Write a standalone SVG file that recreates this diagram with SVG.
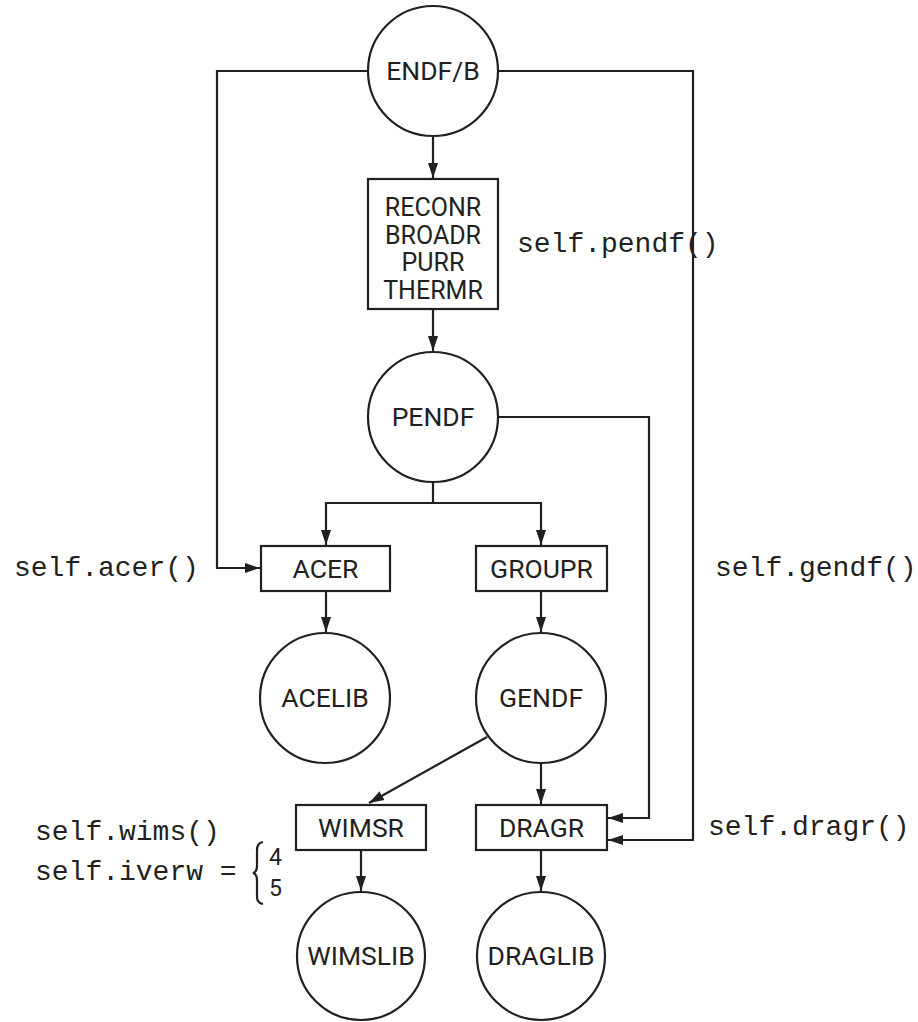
<svg xmlns="http://www.w3.org/2000/svg" width="918" height="1022" viewBox="0 0 918 1022">
<style>
.n{fill:#fff;stroke:#231f20;stroke-width:2.2}
.t{font-family:Roboto,"Liberation Sans",sans-serif;font-size:26.5px;fill:#231f20;text-anchor:middle}
.s{font-size:25px}
.d{font-size:23px;text-anchor:start}
.m{font-family:"Liberation Mono","Courier New",monospace;font-size:28px;fill:#231f20}
.c{fill:none;stroke:#231f20;stroke-width:2.2}
.a{marker-end:url(#ah)}
</style>
<defs>
<marker id="ah" markerUnits="userSpaceOnUse" markerWidth="16" markerHeight="12" refX="15" refY="5" orient="auto" viewBox="0 0 16 10">
<path d="M0,0 L15,5 L0,10 z" fill="#231f20"/>
</marker>
</defs>
<rect width="918" height="1022" fill="#fff"/>
<g id="connectors">
<polyline class="c a" points="368,71 217,71 217,568 260,568"/>
<polyline class="c a" points="498,71 693,71 693,840 608,840"/>
<polyline class="c a" points="498,417 649,417 649,818 608,818"/>
<line class="c a" x1="433" y1="136" x2="433" y2="178"/>
<line class="c a" x1="433" y1="309" x2="433" y2="351"/>
<polyline class="c" points="433,482 433,503"/>
<polyline class="c a" points="433,503 326,503 326,545"/>
<polyline class="c a" points="433,503 541,503 541,545"/>
<line class="c a" x1="326" y1="591" x2="326" y2="632"/>
<line class="c a" x1="541" y1="591" x2="541" y2="632"/>
<line class="c a" x1="541" y1="763" x2="541" y2="804"/>
<line class="c a" x1="487" y1="737" x2="369" y2="803"/>
<line class="c a" x1="361" y1="850" x2="361" y2="891"/>
<line class="c a" x1="541" y1="850" x2="541" y2="891"/>
</g>
<g id="endfb"><circle class="n" cx="433" cy="71" r="65"/><text class="t" x="433" y="80">ENDF/B</text></g>
<g id="pendf-modules"><rect class="n" x="368" y="179" width="130" height="130"/>
<text class="t s" x="433" y="216">RECONR</text>
<text class="t s" x="433" y="244">BROADR</text>
<text class="t s" x="433" y="271">PURR</text>
<text class="t s" x="433" y="299">THERMR</text></g>
<g id="pendf"><circle class="n" cx="433" cy="417" r="65"/><text class="t" x="433" y="426">PENDF</text></g>
<g id="acer"><rect class="n" x="261" y="546" width="129" height="45"/><text class="t" x="325.5" y="578">ACER</text></g>
<g id="groupr"><rect class="n" x="476" y="546" width="131" height="45"/><text class="t" x="541.5" y="578">GROUPR</text></g>
<g id="acelib"><circle class="n" cx="325" cy="698" r="65"/><text class="t" x="325" y="707">ACELIB</text></g>
<g id="gendf"><circle class="n" cx="541" cy="698" r="65"/><text class="t" x="541" y="707">GENDF</text></g>
<g id="wimsr"><rect class="n" x="296" y="805" width="130" height="45"/><text class="t" x="361" y="837">WIMSR</text></g>
<g id="dragr"><rect class="n" x="476" y="805" width="131" height="45"/><text class="t" x="541.5" y="837">DRAGR</text></g>
<g id="wimslib"><circle class="n" cx="361" cy="956" r="64"/><text class="t" x="361" y="965">WIMSLIB</text></g>
<g id="draglib"><circle class="n" cx="541" cy="956" r="64"/><text class="t" x="541" y="965">DRAGLIB</text></g>
<g id="labels">
<text class="m" x="517" y="252">self.pendf()</text>
<text class="m" x="14" y="576">self.acer()</text>
<text class="m" x="715" y="576">self.gendf()</text>
<text class="m" x="708" y="835">self.dragr()</text>
<text class="m" x="35" y="840">self.wims()</text>
<text class="m" x="35" y="880">self.iverw =</text>
<path class="c" d="M263,842 Q257,843 257,850 L257,866 Q257,872 253,873 Q257,874 257,880 L257,897 Q257,903 263,904"/>
<text class="t d" x="269" y="865">4</text>
<text class="t d" x="269" y="896">5</text>
</g>
</svg>
